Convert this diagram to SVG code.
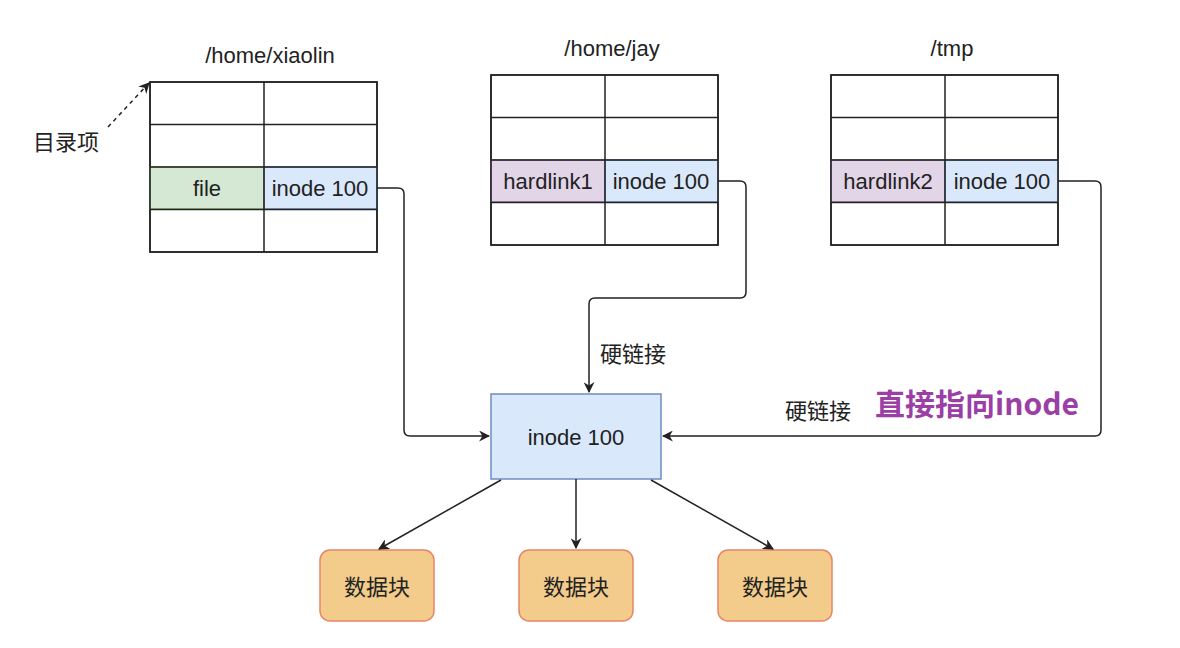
<svg xmlns="http://www.w3.org/2000/svg" width="1180" height="648" viewBox="0 0 1180 648">
<defs>
<style>
.t{font-family:"Liberation Sans","Noto Sans CJK SC",sans-serif;font-size:22px;fill:#222;text-anchor:middle;dominant-baseline:central}
.c{font-family:"Noto Sans CJK SC","Liberation Sans",sans-serif;font-size:22px;fill:#222;text-anchor:middle;dominant-baseline:central}
.cell{fill:#fff;stroke:#222;stroke-width:1.5}
.g{fill:#d5e8d4;stroke:#82b366;stroke-width:1.5}
.b{fill:#dae8fc;stroke:#6c8ebf;stroke-width:1.5}
.p{fill:#e1d5e7;stroke:#9673a6;stroke-width:1.5}
.grid{stroke:#222;stroke-width:1.5;fill:none}
.conn{fill:none;stroke:#222;stroke-width:1.5}
.blk{fill:#f3cc8c;stroke:#e8846a;stroke-width:1.5}
</style>
<marker id="arr" viewBox="0 0 10 10" refX="9" refY="5" markerWidth="11" markerHeight="11" markerUnits="userSpaceOnUse" orient="auto">
<path d="M0,0 L10,5 L0,10 L3,5 Z" fill="#222"/>
</marker>
</defs>

<g id="dir-xiaolin">
<text class="t" x="270" y="55">/home/xiaolin</text>
<rect class="cell" x="150" y="82" width="227" height="170"/>
<rect class="g" x="150" y="167" width="114" height="42"/>
<rect class="b" x="264" y="167" width="113" height="42"/>
<path class="grid" d="M150,124.5H377M150,167H377M150,209.5H377M264,82V252M150,82H377V252H150Z"/>
<text class="t" x="207" y="188">file</text>
<text class="t" x="320" y="188">inode 100</text>
</g>

<g id="dir-jay">
<text class="t" x="612" y="48">/home/jay</text>
<rect class="cell" x="491" y="75" width="227" height="170"/>
<rect class="p" x="491" y="160" width="114" height="42"/>
<rect class="b" x="605" y="160" width="113" height="42"/>
<path class="grid" d="M491,117.5H718M491,160H718M491,202.5H718M605,75V245M491,75H718V245H491Z"/>
<text class="t" x="548" y="181">hardlink1</text>
<text class="t" x="661" y="181">inode 100</text>
</g>

<g id="dir-tmp">
<text class="t" x="952" y="48">/tmp</text>
<rect class="cell" x="831" y="75" width="227" height="170"/>
<rect class="p" x="831" y="160" width="114" height="42"/>
<rect class="b" x="945" y="160" width="113" height="42"/>
<path class="grid" d="M831,117.5H1058M831,160H1058M831,202.5H1058M945,75V245M831,75H1058V245H831Z"/>
<text class="t" x="888" y="181">hardlink2</text>
<text class="t" x="1002" y="181">inode 100</text>
</g>

<g id="label-entry">
<text class="c" x="66" y="140">目录项</text>
</g>

<g id="inode">
<rect class="b" x="491" y="394" width="170" height="85"/>
<text class="t" x="576" y="437">inode 100</text>
</g>

<g id="block1">
<rect class="blk" x="320" y="550" width="114" height="71" rx="10"/>
<text class="c" x="377" y="585">数据块</text>
</g>
<g id="block2">
<rect class="blk" x="519" y="550" width="114" height="71" rx="10"/>
<text class="c" x="576" y="585">数据块</text>
</g>
<g id="block3">
<rect class="blk" x="718" y="550" width="114" height="71" rx="10"/>
<text class="c" x="775" y="585">数据块</text>
</g>

<g id="connectors">
<path class="conn" stroke-dasharray="4,4" d="M108,127 L149,83" marker-end="url(#arr)"/>
<path class="conn" d="M377,188 H398 Q404,188 404,194 V430 Q404,436 410,436 H489" marker-end="url(#arr)"/>
<path class="conn" d="M718,181 H740 Q746,181 746,187 V292 Q746,298 740,298 H595 Q589,298 589,304 V392" marker-end="url(#arr)"/>
<path class="conn" d="M1058,181 H1095 Q1101,181 1101,187 V430 Q1101,436 1095,436 H663" marker-end="url(#arr)"/>
<path class="conn" d="M501,480 L379,549" marker-end="url(#arr)"/>
<path class="conn" d="M576,479 V548" marker-end="url(#arr)"/>
<path class="conn" d="M651,480 L773,549" marker-end="url(#arr)"/>
<text class="c" x="633" y="352">硬链接</text>
<text class="c" x="818" y="409">硬链接</text>
<text class="c" x="977" y="402" style="font-size:30px;font-weight:bold;fill:#9b3ea6">直接指向inode</text>
</g>
</svg>
